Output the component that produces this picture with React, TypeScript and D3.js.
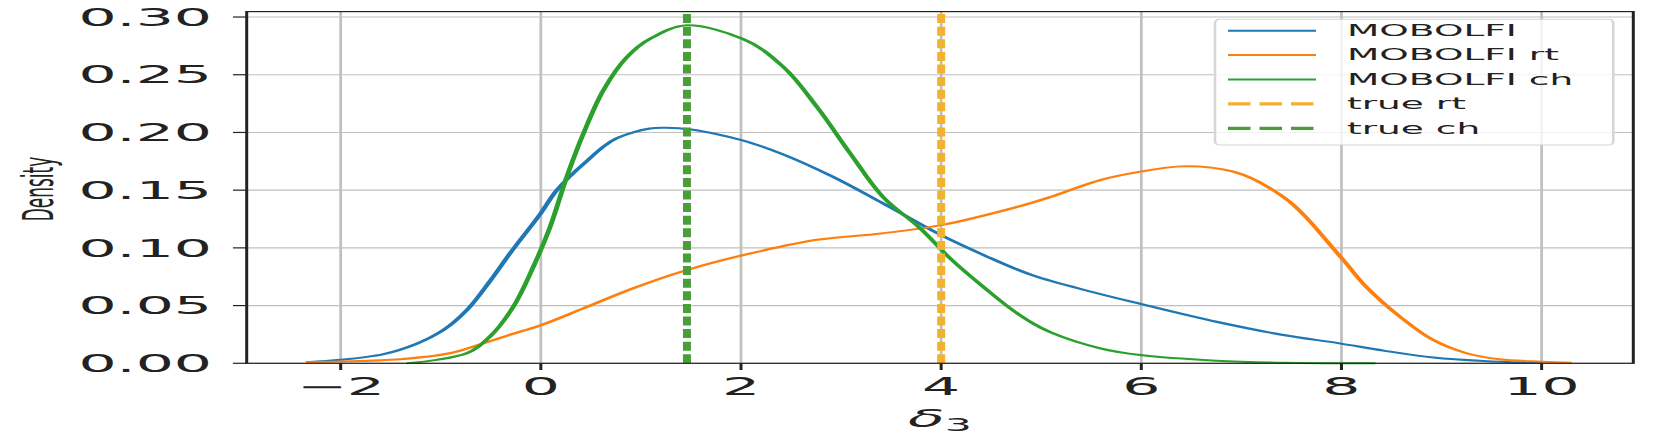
import React from "react";
import * as d3 from "d3";

// ---- data ----
const mobolfiX = [-2.34, -2.0, -1.57, -1.24, -0.97, -0.74, -0.51, -0.31, 0, 0.16, 0.43, 0.76, 1.09, 1.25, 1.5, 2.02, 2.42, 2.92, 3.42, 4.0, 4.42, 4.92, 5.5, 6.0, 6.75, 7.42, 7.98, 8.42, 8.92, 9.42, 10.0];
const mobolfiY = [0.001, 0.003, 0.008, 0.017, 0.029, 0.046, 0.071, 0.095, 0.13, 0.15, 0.173, 0.195, 0.2034, 0.204, 0.2025, 0.193, 0.181, 0.1615, 0.1385, 0.111, 0.094, 0.076, 0.062, 0.0513, 0.036, 0.0245, 0.0173, 0.011, 0.005, 0.002, 0.0003];

const rtX = [-2.35, -2.0, -1.41, -0.91, -0.575, -0.3, 0, 0.425, 0.924, 1.46, 2.02, 2.76, 3.4, 4.0, 4.76, 5.09, 5.59, 5.99, 6.45, 6.92, 7.42, 7.99, 8.25, 8.59, 8.92, 9.25, 9.58, 10.0, 10.3];
const rtY = [0.001, 0.0015, 0.0035, 0.0087, 0.0173, 0.025, 0.033, 0.0476, 0.065, 0.0808, 0.0937, 0.107, 0.1125, 0.1197, 0.1355, 0.144, 0.1587, 0.166, 0.1708, 0.166, 0.144, 0.0923, 0.066, 0.04, 0.02, 0.0087, 0.0035, 0.0014, 0.0005];

const chX = [-1.34, -1.04, -0.74, -0.51, -0.275, -0.075, 0.092, 0.259, 0.425, 0.625, 0.858, 1.09, 1.46, 2.02, 2.42, 2.76, 3.09, 3.42, 3.79, 4.09, 4.42, 4.76, 5.09, 5.59, 5.99, 6.75, 7.42, 8.34];
const chY = [0, 0.003, 0.0087, 0.023, 0.049, 0.0836, 0.118, 0.1615, 0.199, 0.2366, 0.265, 0.281, 0.2928, 0.281, 0.257, 0.222, 0.182, 0.144, 0.117, 0.0909, 0.0663, 0.0433, 0.027, 0.013, 0.0072, 0.0023, 0.0005, 0.0001];

const trueRt = 4.0;
const trueCh = 1.46;

const xTicks = [-2, 0, 2, 4, 6, 8, 10];
const yTicks = [0.0, 0.05, 0.1, 0.15, 0.2, 0.25, 0.3];
const legendLabels = ["MOBOLFI", "MOBOLFI rt", "MOBOLFI ch", "true rt", "true ch"];

// ---- layout (the reference is stretched horizontally) ----
const SX = 2.5;
const W = 1661;
const H = 436;
const axLeft = 246.7 / SX;
const axRight = 1633.3 / SX;
const axTop = 11.6;
const axBottom = 363.3;

const FONT = "'DejaVu Sans', sans-serif";
const C_BLUE = "#1f77b4";
const C_ORANGE = "#ff7f0e";
const C_GREEN = "#2ca02c";
const C_TRUE_RT = "#f2b12e";
const C_TRUE_CH = "#4a9e3a";

export default function App() {
  const x = d3.scaleLinear().domain([-2.939, 10.916]).range([axLeft, axRight]);
  const y = d3.scaleLinear().domain([0, 0.3047]).range([axBottom, axTop]);

  const line = d3
    .line<[number, number]>()
    .x((d) => x(d[0]))
    .y((d) => y(d[1]))
    .curve(d3.curveCatmullRom.alpha(0.5));

  const series = [
    { xs: mobolfiX, ys: mobolfiY, color: C_BLUE },
    { xs: rtX, ys: rtY, color: C_ORANGE },
    { xs: chX, ys: chY, color: C_GREEN },
  ];

  const fmtY = d3.format(".2f");
  const fmtX = (v: number) => (v < 0 ? "\u2212" + Math.abs(v) : String(v));

  const legX0 = 1215 / SX;
  const legX1 = 1613.3 / SX;
  const legY0 = 19.3;
  const legY1 = 145;
  const rowY0 = 30.7;
  const rowStep = 24.4;
  const handleX0 = 1228 / SX;
  const handleX1 = 1316 / SX;
  const textX = 1347 / SX;

  const legendStyles = [
    { color: C_BLUE, dash: undefined as string | undefined, w: 2 },
    { color: C_ORANGE, dash: undefined, w: 2 },
    { color: C_GREEN, dash: undefined, w: 2 },
    { color: C_TRUE_RT, dash: "9,3.6", w: 3.2 },
    { color: C_TRUE_CH, dash: "9,3.6", w: 3.2 },
  ];

  return (
    <svg
      width={W}
      height={H}
      style={{ position: "absolute", left: 0, top: 0, background: "#fff" }}
    >
      <rect x={0} y={0} width={W} height={H} fill="#fff" />
      <g transform={`scale(${SX},1)`}>
        {/* grid */}
        {yTicks.map((t) => (
          <line key={"gy" + t} x1={axLeft} x2={axRight} y1={y(t)} y2={y(t)} stroke="#c0c0c0" strokeWidth={1.1} />
        ))}
        {xTicks.map((t) => (
          <line key={"gx" + t} x1={x(t)} x2={x(t)} y1={axTop} y2={axBottom} stroke="#c0c0c0" strokeWidth={1.1} />
        ))}

        {/* density curves */}
        {series.map((s, i) => (
          <path
            key={"s" + i}
            d={line(s.xs.map((v, j) => [v, s.ys[j]] as [number, number])) || ""}
            fill="none"
            stroke={s.color}
            strokeWidth={2}
          />
        ))}

        {/* true value lines */}
        <line x1={x(trueRt)} x2={x(trueRt)} y1={axBottom} y2={axTop} stroke={C_TRUE_RT} strokeWidth={3.2} strokeDasharray="9,3.6" />
        <line x1={x(trueCh)} x2={x(trueCh)} y1={axBottom} y2={axTop} stroke={C_TRUE_CH} strokeWidth={3.2} strokeDasharray="9,3.6" />

        {/* spines */}
        <rect x={axLeft} y={axTop} width={axRight - axLeft} height={axBottom - axTop} fill="none" stroke="#222" strokeWidth={1.2} />

        {/* y ticks */}
        {yTicks.map((t) => (
          <g key={"ty" + t}>
            <line x1={axLeft - 5.5} x2={axLeft} y1={y(t)} y2={y(t)} stroke="#222" strokeWidth={1.2} />
            <text x={84.8} y={y(t)} dy="0.36em" textAnchor="end" fontFamily={FONT} fontSize={24} fill="#222">
              {fmtY(t)}
            </text>
          </g>
        ))}

        {/* x ticks */}
        {xTicks.map((t) => (
          <g key={"tx" + t}>
            <line x1={x(t)} x2={x(t)} y1={axBottom} y2={axBottom + 6.7} stroke="#222" strokeWidth={1.2} />
            <text x={x(t)} y={395} textAnchor="middle" fontFamily={FONT} fontSize={24} fill="#222">
              {fmtX(t)}
            </text>
          </g>
        ))}

        {/* axis labels */}
        <text x={376} y={427} textAnchor="middle" fontFamily={FONT} fill="#222">
          <tspan fontSize={24} fontStyle="italic">δ</tspan>
          <tspan fontSize={17} dy={4}>3</tspan>
        </text>
        <text
          transform={`translate(${53 / SX},189) rotate(-90)`}
          textAnchor="middle"
          fontFamily={FONT}
          fontSize={17}
          fill="#222"
        >
          Density
        </text>

        {/* legend */}
        <rect
          x={legX0}
          y={legY0}
          width={legX1 - legX0}
          height={legY1 - legY0}
          rx={1.6}
          ry={4}
          fill="#fff"
          fillOpacity={0.8}
          stroke="#d6d6d6"
          strokeWidth={1}
        />
        {legendLabels.map((lab, i) => {
          const ry = rowY0 + i * rowStep;
          const st = legendStyles[i];
          return (
            <g key={"lg" + i}>
              <line x1={handleX0} x2={handleX1} y1={ry} y2={ry} stroke={st.color} strokeWidth={st.w} strokeDasharray={st.dash} />
              <text x={textX} y={ry} dy="0.36em" fontFamily={FONT} fontSize={15} fill="#222">
                {lab}
              </text>
            </g>
          );
        })}
      </g>
    </svg>
  );
}
